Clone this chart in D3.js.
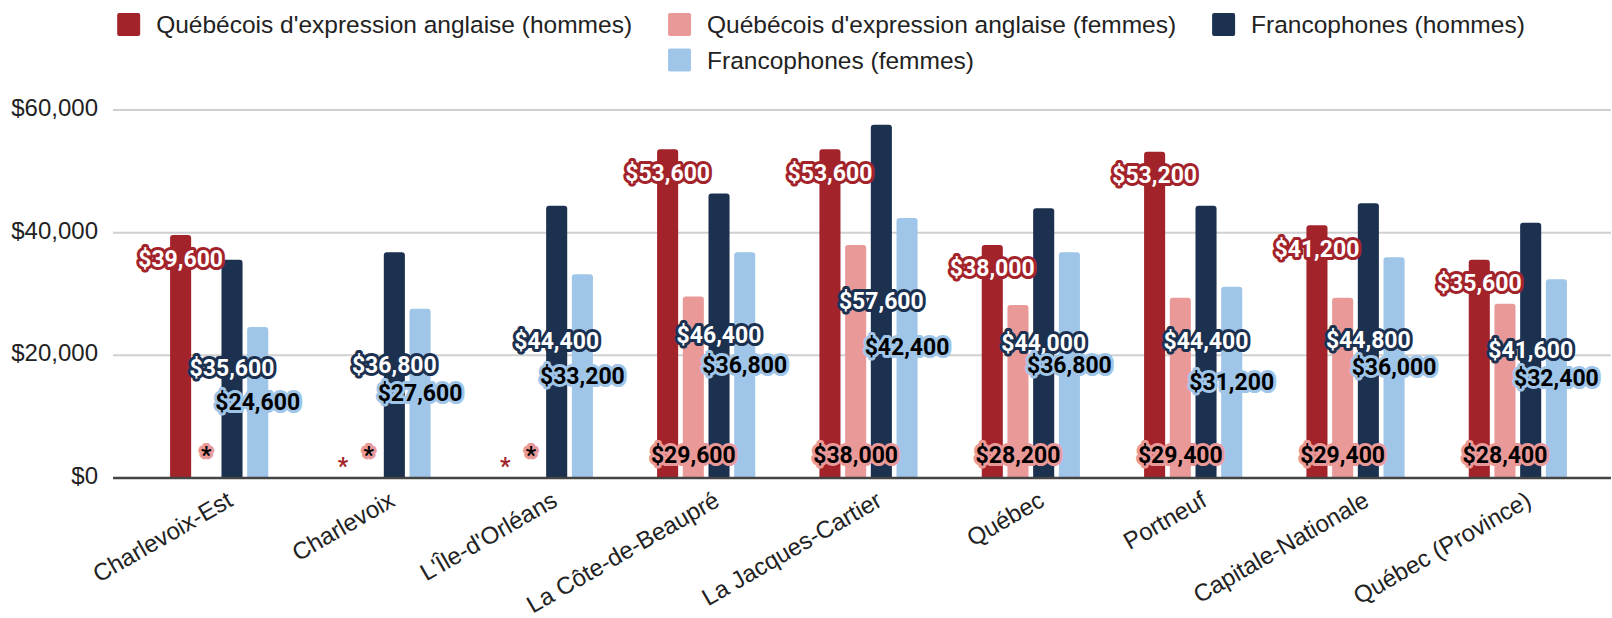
<!DOCTYPE html>
<meta charset="utf-8">
<style>
body { margin: 0; background: #fff; }
svg { display: block; }
.legend text, .yaxis text, .xaxis text { font-family: "Liberation Sans", Arial, sans-serif; font-size: 24px; fill: #222; }
.legend text { font-size: 24.5px; }
.lbl { font-family: Roboto, "Liberation Sans", sans-serif; font-weight: bold; font-size: 23px; paint-order: stroke; stroke-width: 6px; stroke-linejoin: round; }
</style>
<svg width="1612" height="618"></svg>
<script src="https://cdn.jsdelivr.net/npm/d3@7"></script>
<script>

// data (null = not available, shown as "*")
var regions = ["Charlevoix-Est", "Charlevoix", "L'Île-d'Orléans", "La Côte-de-Beaupré", "La Jacques-Cartier", "Québec", "Portneuf", "Capitale-Nationale", "Québec (Province)"];
var angloHommes = [39600, null, null, 53600, 53600, 38000, 53200, 41200, 35600];
var angloFemmes = [null, null, null, 29600, 38000, 28200, 29400, 29400, 28400];
var francoHommes = [35600, 36800, 44400, 46400, 57600, 44000, 44400, 44800, 41600];
var francoFemmes = [24600, 27600, 33200, 36800, 42400, 36800, 31200, 36000, 32400];
var seriesNames = ["Québécois d'expression anglaise (hommes)", "Québécois d'expression anglaise (femmes)", "Francophones (hommes)", "Francophones (femmes)"];
var yTicks = [0, 20000, 40000, 60000];

var colors = ["#a3232b", "#ea9999", "#1c304f", "#9fc5e8"];
var textFill = ["#fff", "#000", "#fff", "#000"];
// where the value label goes: end = inside top, base = inside bottom, center
var labelPos = ["end", "base", "center", "center"];

var series = [angloHommes, angloFemmes, francoHommes, francoFemmes];

var svg = d3.select("svg");
var left = 113, right = 1611;

var x = d3.scaleBand().domain(regions).range([138, 1599]);
var xs = d3.scaleBand().domain(d3.range(4)).range([-51.4, 51.4]).paddingInner(0.18).paddingOuter(0.09);
var y = d3.scaleLinear().domain([0, 60000]).range([478, 110]);
var fmt = d3.format("$,");

// grid + y labels
var yax = svg.append("g").attr("class", "yaxis");
yax.selectAll("line").data(yTicks.filter(function(d){ return d > 0; })).enter().append("line")
  .attr("x1", left).attr("x2", right)
  .attr("y1", function(d){ return y(d); }).attr("y2", function(d){ return y(d); })
  .attr("stroke", "#d0d0d0").attr("stroke-width", 2);
yax.selectAll("text").data(yTicks).enter().append("text")
  .attr("x", 98).attr("y", function(d){ return y(d) + 6; })
  .attr("text-anchor", "end")
  .text(fmt);

// bars
function barPath(x0, w, yTop, yBase) {
  var r = Math.min(3, (yBase - yTop));
  if (yBase - yTop <= 0) return "";
  return "M" + x0 + "," + yBase + "V" + (yTop + r) + "Q" + x0 + "," + yTop + " " + (x0 + r) + "," + yTop +
    "H" + (x0 + w - r) + "Q" + (x0 + w) + "," + yTop + " " + (x0 + w) + "," + (yTop + r) + "V" + yBase + "Z";
}

var cells = [];
series.forEach(function(vals, s) {
  vals.forEach(function(v, i) { cells.push({s: s, i: i, v: v}); });
});

function cx(d) { return x(regions[d.i]) + x.bandwidth() / 2 + xs(d.s) + xs.bandwidth() / 2; }

svg.append("g").selectAll("path").data(cells.filter(function(d){ return d.v != null; })).enter().append("path")
  .attr("fill", function(d){ return colors[d.s]; })
  .attr("d", function(d){ return barPath(cx(d) - xs.bandwidth() / 2, xs.bandwidth(), y(d.v), y(0)); });

// baseline
svg.append("line").attr("x1", left).attr("x2", right).attr("y1", y(0)).attr("y2", y(0))
  .attr("stroke", "#444").attr("stroke-width", 2.5);

// value labels
svg.append("g").selectAll("text").data(cells).enter().append("text")
  .attr("class", "lbl")
  .attr("text-anchor", "middle")
  .attr("dominant-baseline", "central")
  .attr("x", cx)
  .attr("y", function(d) {
    if (d.v == null) return d.s == 0 ? y(0) - 12 : y(0) - 23;
    var p = labelPos[d.s];
    if (p == "end") return y(d.v) + 24;
    if (p == "base") return y(0) - 23;
    return (y(d.v) + y(0)) / 2;
  })
  .attr("fill", function(d){ return (d.v == null && d.s == 0) ? colors[0] : textFill[d.s]; })
  .attr("stroke", function(d){ return (d.v == null && d.s == 0) ? "none" : colors[d.s]; })
  .text(function(d){ return d.v == null ? "*" : fmt(d.v); });

// x labels
svg.append("g").attr("class", "xaxis").selectAll("text").data(regions).enter().append("text")
  .attr("text-anchor", "end")
  .attr("transform", function(d){ return "translate(" + (x(d) + x.bandwidth() / 2 + 15) + ",505) rotate(-30)"; })
  .text(function(d){ return d; });

// legend, centered rows
var rows = [[0, 1, 2], [3]];
var lg = svg.append("g").attr("class", "legend");
rows.forEach(function(row, r) {
  var yc = 24.5 + r * 35.5;
  var items = row.map(function(s) {
    var g = lg.append("g");
    g.append("rect").attr("width", 23).attr("height", 23).attr("rx", 2).attr("y", yc - 11.5).attr("fill", colors[s]);
    var t = g.append("text").attr("x", 39).attr("y", yc + 8.5).text(seriesNames[s]);
    return {g: g, w: 39 + t.node().getComputedTextLength()};
  });
  var gap = 36;
  var total = d3.sum(items, function(d){ return d.w; }) + gap * (items.length - 1);
  var xpos = 821 - total / 2;
  items.forEach(function(it) {
    it.g.attr("transform", "translate(" + xpos + ",0)");
    xpos += it.w + gap;
  });
});

</script>
